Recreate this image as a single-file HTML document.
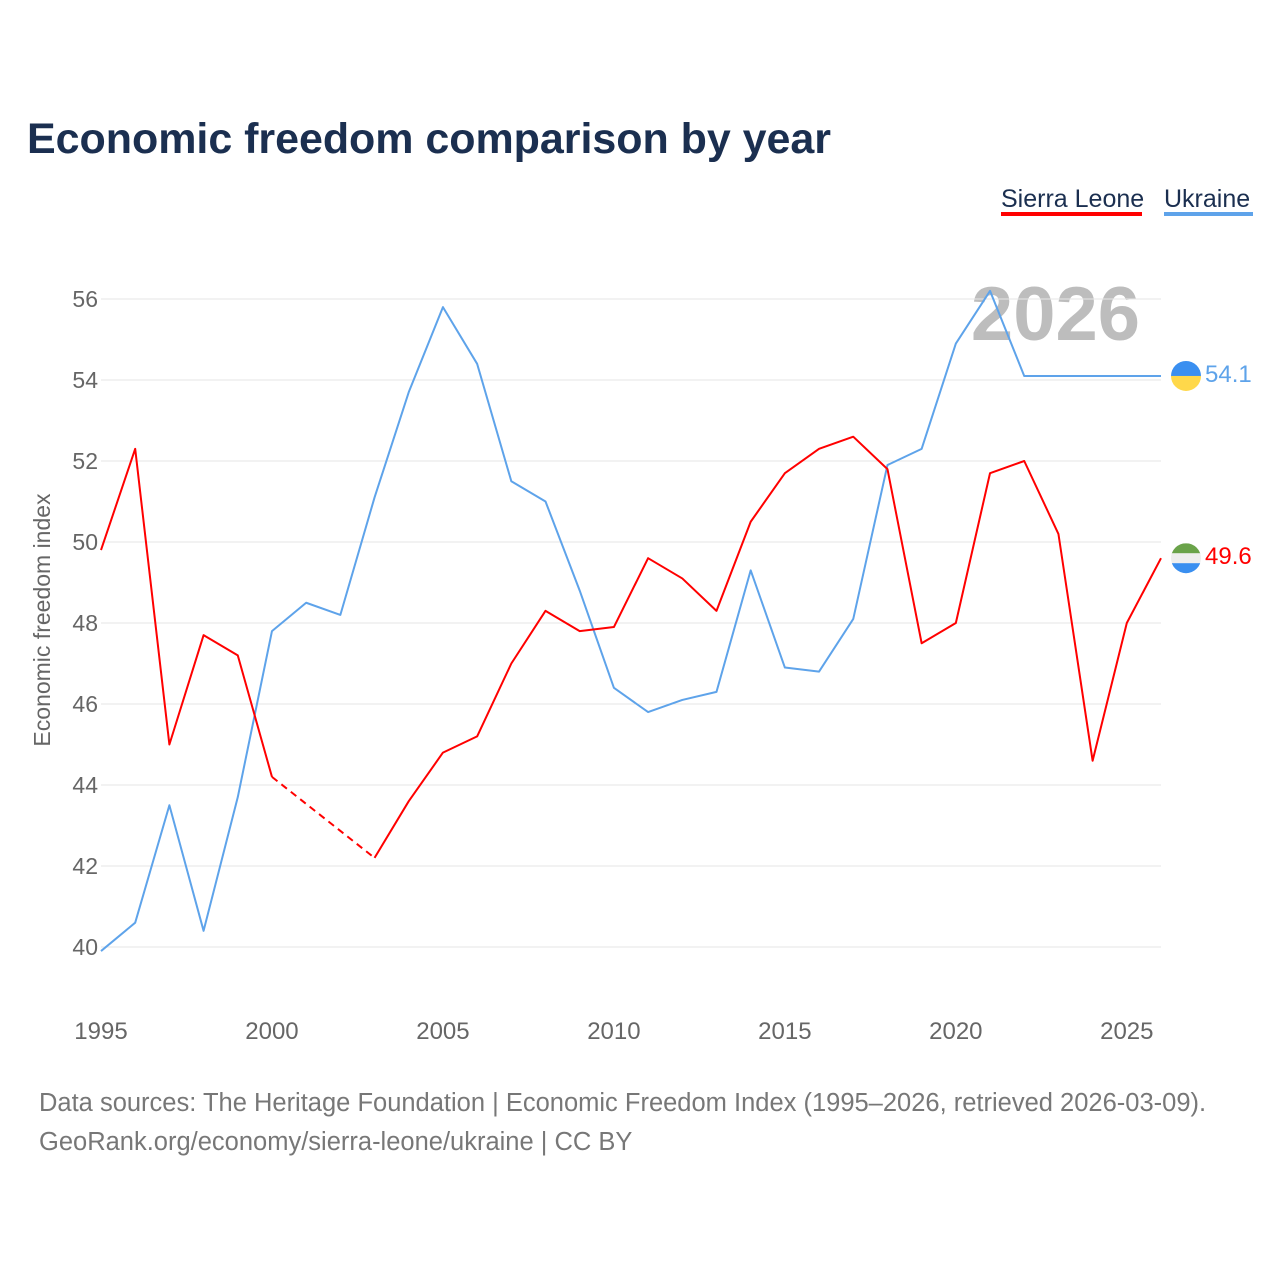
<!DOCTYPE html>
<html><head><meta charset="utf-8">
<style>
html,body{margin:0;padding:0;background:#fff;}
body{width:1280px;height:1280px;position:relative;font-family:"Liberation Sans",sans-serif;overflow:hidden;}
</style></head>
<body>
<svg id="chart" width="1280" height="1280" xmlns="http://www.w3.org/2000/svg" style="position:absolute;left:0;top:0">
<text x="27" y="153" font-size="43" font-weight="bold" fill="#1b2f50" font-family="Liberation Sans, sans-serif" textLength="804">Economic freedom comparison by year</text>
<g>
<text x="1001" y="207" font-size="25" fill="#1b2f50">Sierra Leone</text>
<rect x="1001" y="212" width="141" height="4" fill="#ff0000"/>
<text x="1164" y="207" font-size="25" fill="#1b2f50">Ukraine</text>
<rect x="1164" y="212" width="89" height="4" fill="#5ea3ea"/>
</g>
<text transform="translate(50,620) rotate(-90)" text-anchor="middle" font-size="23" fill="#666">Economic freedom index</text>
<text x="1140" y="340" text-anchor="end" font-size="76" font-weight="bold" fill="#bdbdbd">2026</text>
<g id="grid"></g><g id="ticks"></g><g id="series"></g>
<text x="39" y="1111" font-size="25.5" fill="#777">Data sources: The Heritage Foundation | Economic Freedom Index (1995–2026, retrieved 2026-03-09).</text>
<text x="39" y="1150" font-size="25.5" fill="#777">GeoRank.org/economy/sierra-leone/ukraine | CC BY</text>
</svg>
<script>
const years=[1995,1996,1997,1998,1999,2000,2001,2002,2003,2004,2005,2006,2007,2008,2009,2010,2011,2012,2013,2014,2015,2016,2017,2018,2019,2020,2021,2022,2023,2024,2025,2026];
const sierraLeone=[49.8,52.3,45.0,47.7,47.2,44.2,null,null,42.2,43.6,44.8,45.2,47.0,48.3,47.8,47.9,49.6,49.1,48.3,50.5,51.7,52.3,52.6,51.8,47.5,48.0,51.7,52.0,50.2,44.6,48.0,49.6];
const ukraine=[39.9,40.6,43.5,40.4,43.7,47.8,48.5,48.2,51.1,53.7,55.8,54.4,51.5,51.0,48.8,46.4,45.8,46.1,46.3,49.3,46.9,46.8,48.1,51.9,52.3,54.9,56.2,54.1,54.1,54.1,54.1,54.1];
const yTicks=[40,42,44,46,48,50,52,54,56];
const xTicks=[1995,2000,2005,2010,2015,2020,2025];
const NS="http://www.w3.org/2000/svg";
const X=y=>101+(y-1995)*(1060/31);
const Y=v=>947-(v-40)*40.5;
function mk(t,a,p){const e=document.createElementNS(NS,t);for(const k in a)e.setAttribute(k,a[k]);p.appendChild(e);return e;}
const grid=document.getElementById('grid'),ticks=document.getElementById('ticks'),ser=document.getElementById('series');
yTicks.forEach(v=>{
 const l=mk('line',{x1:101,x2:1161,y1:Y(v),y2:Y(v),stroke:'#e6e6e6','stroke-width':1},grid);
 
 
 const t=mk('text',{x:98,y:Y(v)+8,'text-anchor':'end','font-size':23,fill:'#666'},ticks);
 t.textContent=v;
 
 
});
xTicks.forEach(v=>{
 const t=mk('text',{x:X(v),y:1039,'text-anchor':'middle','font-size':24,fill:'#666'},ticks);
 t.textContent=v;
 
 
});
function draw(vals,color,name){
 const g=mk('g',{},ser);
 
 
 let d='',prev=null,dash='';
 vals.forEach((v,i)=>{
  if(v==null)return;
  const px=X(years[i]),py=Y(v);
  if(prev&&prev.i===i-1)d+=`L${px},${py}`;
  else{ if(prev)dash+=`M${X(years[prev.i])},${Y(prev.v)}L${px},${py}`; d+=`M${px},${py}`;}
  prev={i,v};
 });
 const p=mk('path',{d:d,fill:'none',stroke:color,'stroke-width':2,'stroke-linejoin':'round'},g);
 
 
 if(dash){const q=mk('path',{d:dash,fill:'none',stroke:color,'stroke-width':2,'stroke-dasharray':'7,5'},g);
 
 }
 const last=vals[vals.length-1];
 const lbl=mk('text',{x:1205,y:Y(last)+6,'font-size':24,fill:color},g);
 lbl.textContent=last.toFixed(1);
 
 
 return Y(last);
}
const yu=draw(ukraine,'#5ea3ea','ukraine');
const ys=draw(sierraLeone,'#ff0000','sierra-leone');
function flag(cy,bands,name){
 const g=mk('g',{},ser);
 
 
 const id='clip'+name;
 const cp=mk('clipPath',{id:id},g);mk('circle',{cx:1186,cy:cy,r:15},cp);
 const h=30/bands.length;
 bands.forEach((c,i)=>mk('rect',{x:1171,y:cy-15+i*h,width:30,height:h+0.5,fill:c,'clip-path':`url(#${id})`},g));
}
flag(yu,['#3a8ff0','#ffd84a'],'ukraine-flag');
flag(ys,['#6aa34a','#eeeeee','#3a8ff0'],'sierra-leone-flag');
</script>
</body></html>
